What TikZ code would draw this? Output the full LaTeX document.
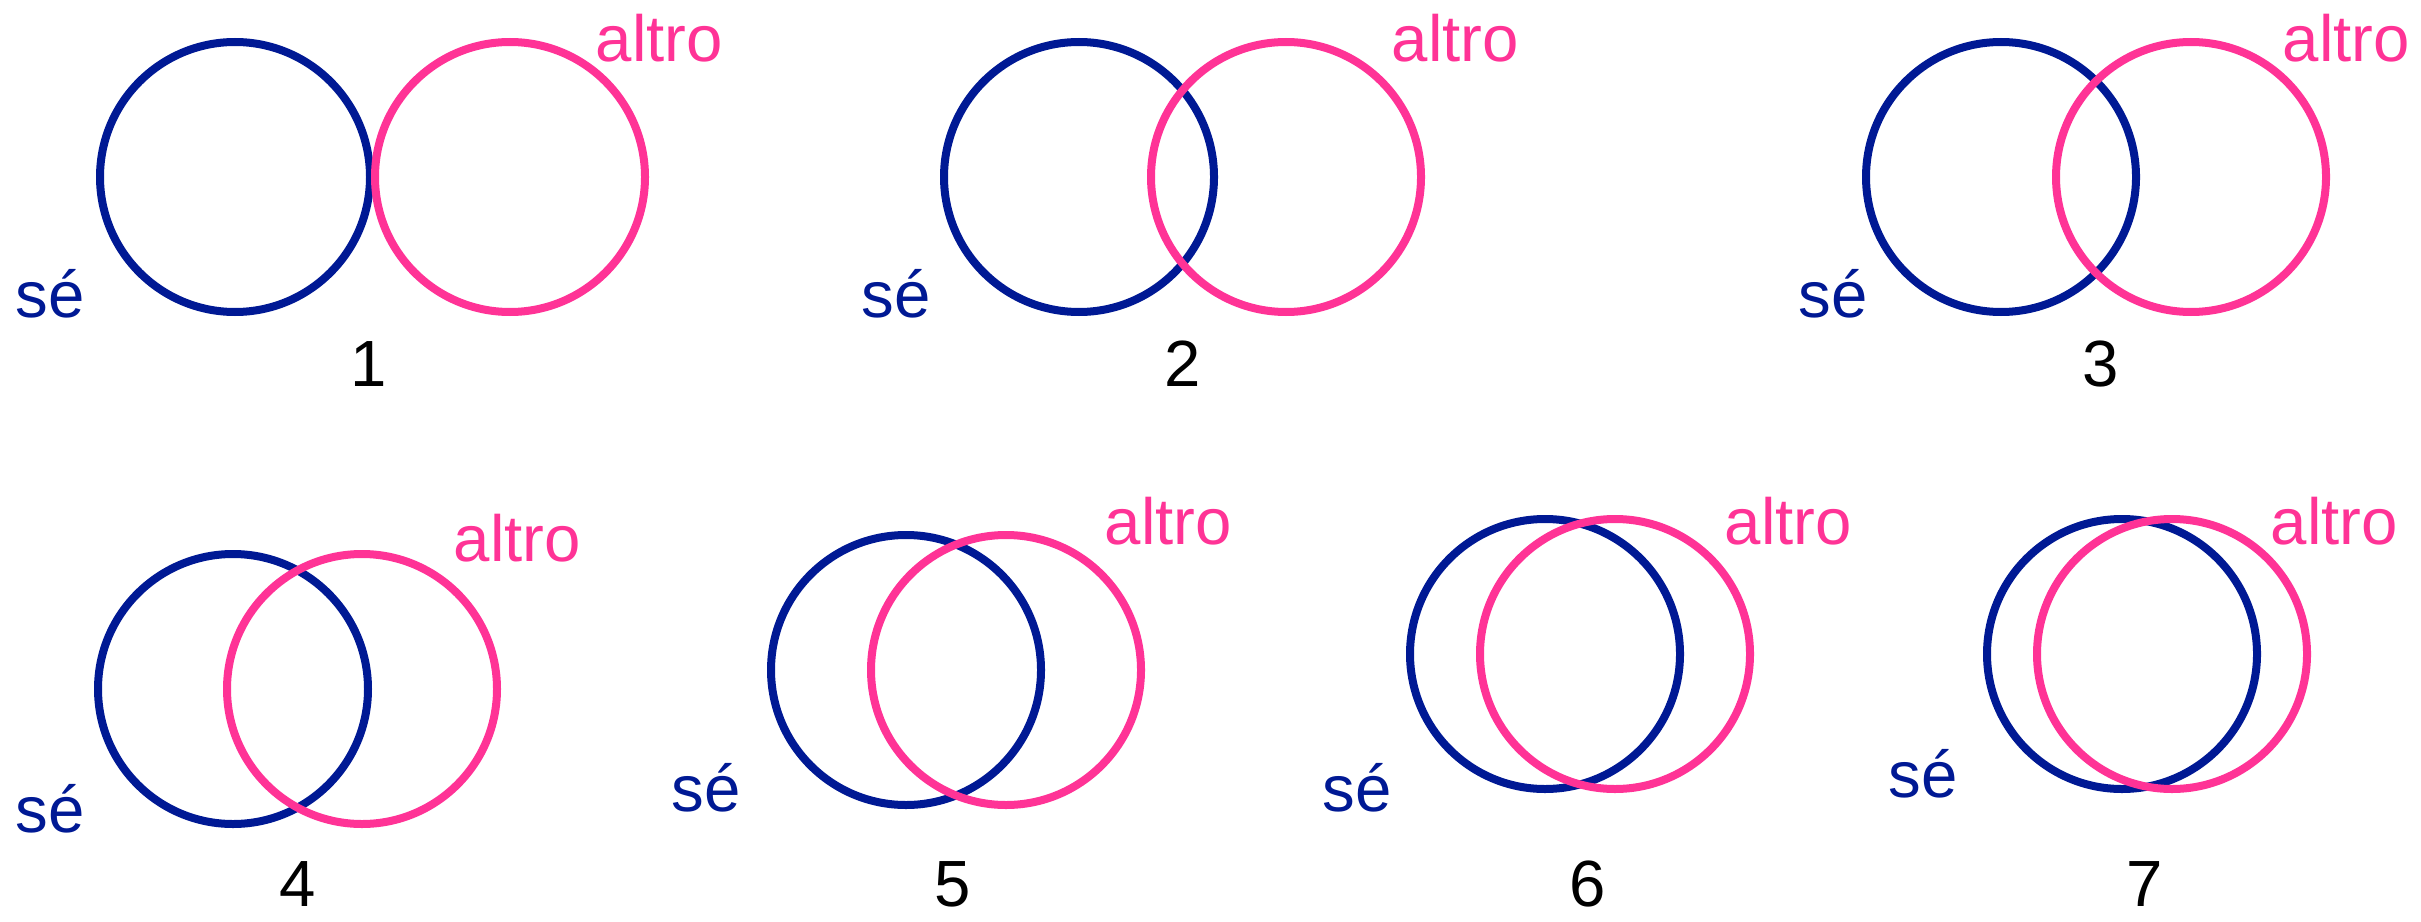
\documentclass[tikz,border=0pt]{standalone}
\usepackage{fontspec}
\setmainfont{Liberation Sans}
\definecolor{seblue}{RGB}{0,25,148}
\definecolor{altpink}{RGB}{255,51,150}
\begin{document}
\begin{tikzpicture}[x=0.3pt,y=-0.3pt,
  ring/.style={circle,draw,line width=2.4pt,minimum size=81pt,inner sep=0pt},
  sering/.style={ring,draw=seblue},
  altring/.style={ring,draw=altpink},
  lab/.style={inner sep=0pt,font=\fontsize{19.6pt}{22pt}\selectfont},
  selab/.style={lab,text=seblue,anchor=base west},
  altlab/.style={lab,text=altpink,anchor=base west},
  numlab/.style={lab,text=black,anchor=base}]
\useasboundingbox (0,0) rectangle (2421,921);
% panel 1
\node[sering] (b1) at (235,177) {};
\node[altring] (p1) at (510,177) {};
\node[altlab] (a1) at (595,62) {altro};
\node[selab] (s1) at (15,317) {sé};
\node[numlab] (n1) at (369,386) {1};
% panel 2
\node[sering] (b2) at (1079,177) {};
\node[altring] (p2) at (1286,177) {};
\node[altlab] (a2) at (1391,62) {altro};
\node[selab] (s2) at (861,317) {sé};
\node[numlab] (n2) at (1183,386) {2};
% panel 3
\node[sering] (b3) at (2001,177) {};
\node[altring] (p3) at (2191,177) {};
\node[altlab] (a3) at (2282,62) {altro};
\node[selab] (s3) at (1798,317) {sé};
\node[numlab] (n3) at (2101,386) {3};
% panel 4
\node[sering] (b4) at (233,689) {};
\node[altring] (p4) at (362,689) {};
\node[altlab] (a4) at (453,561) {altro};
\node[selab] (s4) at (15,832) {sé};
\node[numlab] (n4) at (298,906) {4};
% panel 5
\node[sering] (b5) at (906,670) {};
\node[altring] (p5) at (1006,670) {};
\node[altlab] (a5) at (1104,544) {altro};
\node[selab] (s5) at (671,811) {sé};
\node[numlab] (n5) at (953,906) {5};
% panel 6
\node[sering] (b6) at (1545,654) {};
\node[altring] (p6) at (1615,654) {};
\node[altlab] (a6) at (1724,544) {altro};
\node[selab] (s6) at (1322,811) {sé};
\node[numlab] (n6) at (1588,906) {6};
% panel 7
\node[sering] (b7) at (2122,654) {};
\node[altring] (p7) at (2172,654) {};
\node[altlab] (a7) at (2270,544) {altro};
\node[selab] (s7) at (1888,797) {sé};
\node[numlab] (n7) at (2145,906) {7};
\end{tikzpicture}
\end{document}
